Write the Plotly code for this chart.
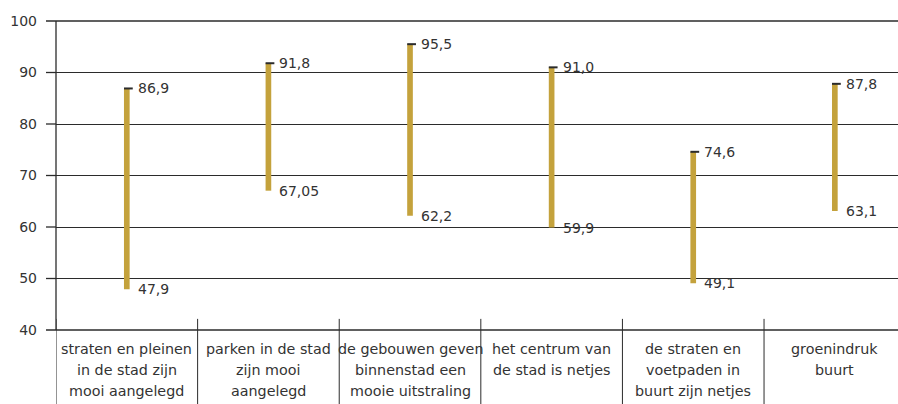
import plotly.graph_objects as go

categories = [
    ["straten en pleinen", "in de stad zijn", "mooi aangelegd"],
    ["parken in de stad", "zijn mooi", "aangelegd"],
    ["de gebouwen geven", "binnenstad een", "mooie uitstraling"],
    ["het centrum van", "de stad is netjes"],
    ["de straten en", "voetpaden in", "buurt zijn netjes"],
    ["groenindruk", "buurt"],
]
low_values = [47.9, 67.05, 62.2, 59.9, 49.1, 63.1]
high_values = [86.9, 91.8, 95.5, 91.0, 74.6, 87.8]
low_labels = ["47,9", "67,05", "62,2", "59,9", "49,1", "63,1"]
high_labels = ["86,9", "91,8", "95,5", "91,0", "74,6", "87,8"]
y_ticks = [40, 50, 60, 70, 80, 90, 100]

BAR = "#C4A23C"
TXT = "#333333"
LINE = "#2b2b2b"
FONT = "DejaVu Sans"

n = len(categories)
xs = list(range(n))
bw = 0.04
PLOT_W = 842

fig = go.Figure()
fig.add_trace(go.Bar(
    x=xs, y=[h - l for h, l in zip(high_values, low_values)], base=low_values,
    width=bw, marker=dict(color=BAR, line=dict(width=0)), hoverinfo="skip",
))
# small dash at top of each bar
dx, dy = [], []
for i, h in zip(xs, high_values):
    dx += [i - bw / 2, i + bw / 2 + 0.022, None]
    dy += [h, h, None]
fig.add_trace(go.Scatter(x=dx, y=dy, mode="lines", line=dict(color=LINE, width=2),
                         hoverinfo="skip"))

annotations = []
for i in xs:
    for v, t in ((high_values[i], high_labels[i]), (low_values[i], low_labels[i])):
        annotations.append(dict(x=i, y=v, xref="x", yref="y", text=t, showarrow=False,
                                xanchor="left", yanchor="middle", xshift=9,
                                font=dict(family=FONT, size=14, color=TXT)))
    for k, line in enumerate(categories[i]):
        annotations.append(dict(x=i, y=0, xref="x", yref="paper", text=line, showarrow=False,
                                xanchor="center", yanchor="middle", yshift=-19 - 21 * k,
                                font=dict(family=FONT, size=14.3, color=TXT)))

shapes = []
for k in range(n + 1):
    shapes.append(dict(type="line", xref="x", yref="paper", x0=k - 0.5, x1=k - 0.5,
                       y0=-0.26, y1=0.036, line=dict(color=LINE, width=1)))
# frame lines at bottom / top of the value range, left axis and tick marks
shapes.append(dict(type="line", xref="paper", yref="paper", x0=-10 / PLOT_W, x1=1, y0=0, y1=0,
                   line=dict(color=LINE, width=1.3)))
shapes.append(dict(type="line", xref="paper", yref="paper", x0=-10 / PLOT_W, x1=1, y0=1, y1=1,
                   line=dict(color=LINE, width=1.3)))
for yv in y_ticks[1:-1]:
    shapes.append(dict(type="line", xref="paper", yref="y", x0=-10 / PLOT_W, x1=0, y0=yv, y1=yv,
                       line=dict(color=LINE, width=1.3)))
shapes.append(dict(type="line", xref="paper", yref="paper", x0=0, x1=0, y0=0, y1=1,
                   line=dict(color=LINE, width=1.3)))

fig.update_layout(
    width=898, height=404,
    margin=dict(l=56, r=0, t=21, b=74, autoexpand=False),
    paper_bgcolor="white", plot_bgcolor="white",
    showlegend=False,
    annotations=annotations, shapes=shapes,
    xaxis=dict(range=[-0.5, 5.446], showticklabels=False, showgrid=False, zeroline=False,
               ticks="", showline=False, fixedrange=True, automargin=False),
    yaxis=dict(range=[40, 100], tickvals=y_ticks, showgrid=True, gridcolor=LINE, gridwidth=1,
               zeroline=False, showline=False,
               ticks="", ticklabelstandoff=18, automargin=False,
               tickfont=dict(family=FONT, size=14, color=TXT)),
)
fig.write_html("out.html", post_script="document.body.style.margin='0';",
               config={"displayModeBar": False})
